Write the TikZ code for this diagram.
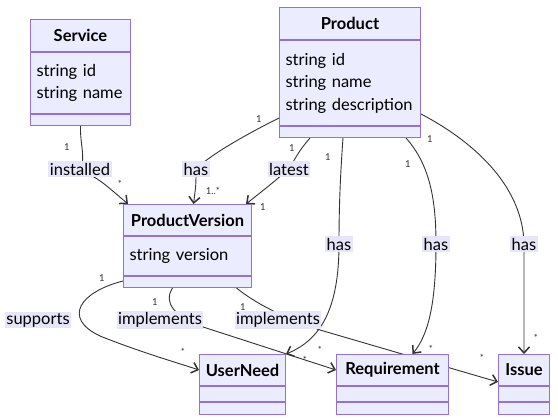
\documentclass[tikz,border=0pt]{standalone}
\usepackage{fontspec}
\setmainfont{Lato}
\usetikzlibrary{arrows.meta, positioning, backgrounds}
\definecolor{boxfill}{HTML}{ECECFF}
\definecolor{boxline}{HTML}{9370DB}
\definecolor{edgeline}{HTML}{333333}
\definecolor{lblfill}{HTML}{E6E6F8}

\begin{document}
\begin{tikzpicture}[
  x=1pt, y=-1pt,
  cls/.style={rectangle, draw=boxline, fill=boxfill, line width=1pt,
              inner sep=0pt, anchor=north west},
  clstitle/.style={cls, font=\fontsize{16.5}{19}\selectfont\bfseries, minimum height=32pt},
  clsattr/.style={cls, font=\fontsize{16.5}{22.5}\selectfont, align=left, inner xsep=6pt},
  clsops/.style={cls, minimum height=11pt},
  edgelbl/.style={fill=lblfill, inner sep=1.5pt, font=\fontsize{16.5}{19}\selectfont},
  mult/.style={font=\fontsize{9.5}{10}\selectfont, text=edgeline, inner sep=0pt},
  rel/.style={draw=edgeline, line width=0.9pt,
              -{Straight Barb[length=6pt, width=11pt, line width=1.5pt]}}
]
\useasboundingbox (0,0) rectangle (558,420);

% classes
\node[clstitle, minimum width=100pt] (svc) at (30,19) {Service};
\node[clsattr, text width=88pt, minimum height=61pt, below=0pt of svc] (svcattr) {string id\\string name};
\node[clsops, minimum width=100pt, below=0pt of svcattr] (svcops) {};

\node[clstitle, minimum width=141pt] (prod) at (279,7) {Product};
\node[clsattr, text width=129pt, minimum height=85pt, below=0pt of prod] (prodattr) {string id\\string name\\string description};
\node[clsops, minimum width=141pt, below=0pt of prodattr] (prodops) {};

\node[clstitle, minimum width=128pt, minimum height=31pt] (pv) at (123,204) {ProductVersion};
\node[clsattr, text width=116pt, minimum height=39pt, below=0pt of pv] (pvattr) {string version};
\node[clsops, minimum width=128pt, below=0pt of pvattr] (pvops) {};

\node[clstitle, minimum width=86pt, minimum height=31pt] (un) at (199,354) {UserNeed};
\node[clsops, minimum width=86pt, minimum height=15pt, below=0pt of un] (unattr) {};
\node[clsops, minimum width=86pt, minimum height=12pt, below=0pt of unattr] (unops) {};

\node[clstitle, minimum width=112pt, minimum height=31pt] (req) at (336,354) {Requirement};
\node[clsops, minimum width=112pt, minimum height=15pt, below=0pt of req] (reqattr) {};
\node[clsops, minimum width=112pt, minimum height=12pt, below=0pt of reqattr] (reqops) {};

\node[clstitle, minimum width=51pt, minimum height=31pt] (iss) at (498,354) {Issue};
\node[clsops, minimum width=51pt, minimum height=15pt, below=0pt of iss] (issattr) {};
\node[clsops, minimum width=51pt, minimum height=12pt, below=0pt of issattr] (issops) {};

% relation labels
\node[edgelbl] (lblinst) at (80,169) {installed};
\node[edgelbl] (lblhaspv) at (196,169) {has};
\node[edgelbl] (lbllatest) at (289,169) {latest};
\node[edgelbl] (lblhasun) at (339,244) {has};
\node[edgelbl] (lblhasreq) at (436,244) {has};
\node[edgelbl] (lblhasiss) at (524,244) {has};
\node[edgelbl] (lblsupp) at (38,320) {supports};
\node[edgelbl] (lblimpreq) at (160,320) {implements};
\node[edgelbl] (lblimpiss) at (278,320) {implements};

% multiplicities
\node[mult] (instsrc) at (67,147) {1};
\node[mult] (insttgt) at (120,184) {*};
\node[mult] (haspvsrc) at (259,119) {1};
\node[mult] (haspvtgt) at (213,191) {1..*};
\node[mult] (latestsrc) at (292,148) {1};
\node[mult] (latesttgt) at (263,207) {1};
\node[mult] (hasunsrc) at (328,157) {1};
\node[mult] (hasuntgt) at (320,350) {*};
\node[mult] (hasreqsrc) at (408,164) {1};
\node[mult] (hasreqtgt) at (431,349) {*};
\node[mult] (hasisssrc) at (430,139) {1};
\node[mult] (hasisstgt) at (536,338) {*};
\node[mult] (suppsrc) at (102,278) {1};
\node[mult] (supptgt) at (183,352) {*};
\node[mult] (impreqsrc) at (155,302) {1};
\node[mult] (impreqtgt) at (305,360) {*};
\node[mult] (impisssrc) at (243,307) {1};
\node[mult] (impisstgt) at (482,358) {*};

% relations
\begin{scope}[on background layer]
\draw[rel] (svcops.south) .. controls (80,145) and (86,158) .. (lblinst.center)
  .. controls (100,180) .. ([xshift=5pt]pv.north west);
\draw[rel] ([yshift=8pt]prodattr.south west) .. controls (245,135) and (210,155) .. (lblhaspv.center)
  .. controls (196,185) .. ([xshift=6pt]pv.north);
\draw[rel] ([xshift=-40pt]prodops.south) .. controls (300,150) .. (lbllatest.center)
  .. controls (270,185) .. ([xshift=-6pt]pv.north east);
\draw[rel] ([xshift=-7pt]prodops.south) .. controls (340,180) and (339,210) .. (lblhasun.center)
  .. controls (339,310) and (320,340) .. (un.north east);
\draw[rel] ([xshift=56pt]prodops.south) .. controls (430,165) and (436,200) .. (lblhasreq.center)
  .. controls (436,305) and (428,335) .. ([xshift=20pt]req.north);
\draw[rel] ([yshift=12pt]prodattr.south east) .. controls (480,145) and (523,190) .. (lblhasiss.center)
  -- (iss.north);
\draw[rel] ([yshift=7pt]pvops.south west) .. controls (80,292) and (62,318) .. (100,336)
  .. controls (140,352) and (175,362) .. (un.west);
\draw[rel] ([xshift=-15pt]pvops.south) .. controls (163,303) and (175,316) .. (200,326)
  -- (req.west);
\draw[rel] ([xshift=49pt]pvops.south) .. controls (255,303) and (280,316) .. (320,330)
  -- ([yshift=-12pt]iss.west);
\end{scope}
\end{tikzpicture}
\end{document}
